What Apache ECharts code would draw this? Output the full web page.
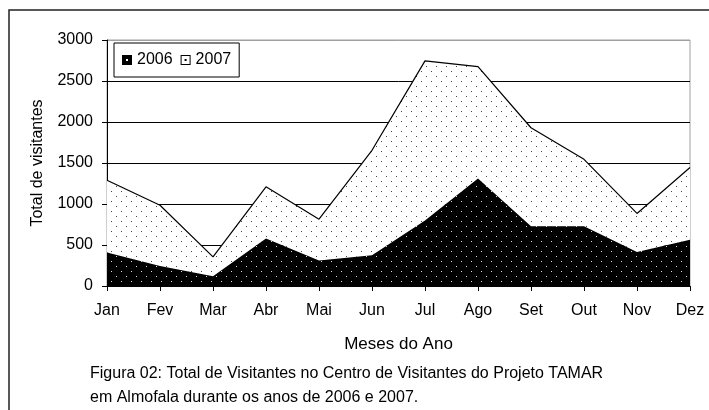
<!DOCTYPE html>
<html>
<head>
<meta charset="utf-8">
<script src="https://cdn.jsdelivr.net/npm/echarts@6/dist/echarts.min.js"></script>
<style>
    html, body { margin: 0; padding: 0; background: #fff; }
    #chart { width: 709px; height: 410px; }
</style>
</head>
<body>
<div id="chart"></div>
<script>
// dados
var meses = ['Jan', 'Fev', 'Mar', 'Abr', 'Mai', 'Jun', 'Jul', 'Ago', 'Set', 'Out', 'Nov', 'Dez'];
var visitantes2006 = [410, 245, 120, 580, 310, 375, 800, 1310, 730, 730, 415, 565];
var visitantes2007 = [880, 740, 235, 630, 505, 1280, 1945, 1365, 1200, 815, 470, 880];
var legenda = ['2006', '2007'];

var fonte = 'Liberation Sans, Arial, sans-serif';

// textura pontilhada (fundo + pontos)
function pontos(fundo, ponto) {
    var c = document.createElement('canvas');
    c.width = 10;
    c.height = 10;
    var ctx = c.getContext('2d');
    ctx.fillStyle = fundo;
    ctx.fillRect(0, 0, 10, 10);
    ctx.fillStyle = ponto;
    ctx.fillRect(1, 1, 1, 1);
    ctx.fillRect(6, 6, 1, 1);
    return { image: c, repeat: 'repeat' };
}

var chart = echarts.init(document.getElementById('chart'));
var option = {
    animation: false,
    textStyle: { fontFamily: fonte, color: '#000' },
    title: {
        text: 'Figura 02: Total de Visitantes no Centro de Visitantes do Projeto TAMAR\nem Almofala durante os anos de 2006 e 2007.',
        left: 90,
        top: 362,
        padding: 0,
        textStyle: {
            fontFamily: fonte,
            fontSize: 16,
            fontWeight: 'normal',
            color: '#000',
            lineHeight: 24
        }
    },
    legend: {
        left: 114,
        top: 43,
        padding: [9, 8],
        itemWidth: 10,
        itemHeight: 10,
        itemGap: 8,
        borderColor: '#000',
        borderWidth: 1,
        backgroundColor: '#fff',
        textStyle: { fontFamily: fonte, fontSize: 16, color: '#000' },
        data: [
            { name: legenda[0], icon: 'path://M0,0H10V10H0Z M4,4V6H6V4Z', itemStyle: { color: '#000' } },
            { name: legenda[1], icon: 'path://M0,0H10V10H0Z M1,1V9H9V1Z M4,4H6V6H4Z', itemStyle: { color: '#000' } }
        ]
    },
    grid: {
        left: 107,
        right: 19,
        top: 40,
        bottom: 124,
        show: true,
        borderColor: '#a0a0a0',
        borderWidth: 1
    },
    xAxis: {
        type: 'category',
        boundaryGap: false,
        data: meses,
        name: 'Meses do Ano',
        nameLocation: 'middle',
        nameGap: 50,
        nameTextStyle: { fontFamily: fonte, fontSize: 17 },
        axisLine: { lineStyle: { color: '#000', width: 1 } },
        axisTick: { show: true, length: 5, lineStyle: { color: '#000' } },
        axisLabel: { margin: 17, fontSize: 16, color: '#000', interval: 0 },
        splitLine: { show: false }
    },
    yAxis: {
        type: 'value',
        min: 0,
        max: 3000,
        interval: 500,
        name: 'Total de visitantes',
        nameLocation: 'middle',
        nameGap: 61,
        nameTextStyle: { fontFamily: fonte, fontSize: 16 },
        axisLine: { show: true, lineStyle: { color: '#000', width: 1 } },
        axisTick: { show: true, length: 5, lineStyle: { color: '#000' } },
        axisLabel: {
            margin: 14,
            fontSize: 16,
            color: '#000',
            formatter: function (v) { return String(v); }
        },
        splitLine: {
            show: true,
            lineStyle: { color: ['#000', '#000', '#000', '#000', '#000', '#000', '#a0a0a0'], width: 1 }
        }
    },
    graphic: [
        {
            type: 'rect',
            shape: { x: 9, y: 10, width: 760, height: 500 },
            style: { fill: 'none', stroke: '#222', lineWidth: 1.5 },
            silent: true
        }
    ],
    series: [
        {
            name: legenda[0],
            type: 'line',
            stack: 'total',
            data: visitantes2006,
            showSymbol: false,
            itemStyle: { color: '#000' },
            lineStyle: { width: 0 },
            areaStyle: { color: pontos('#000', '#ddd'), opacity: 1 },
            z: 3
        },
        {
            name: legenda[1],
            type: 'line',
            stack: 'total',
            data: visitantes2007,
            showSymbol: false,
            itemStyle: { color: '#000' },
            lineStyle: { color: '#000', width: 1.2 },
            areaStyle: { color: pontos('#fff', '#444'), opacity: 1 },
            z: 2
        }
    ]
};
chart.setOption(option);
</script>
</body>
</html>
